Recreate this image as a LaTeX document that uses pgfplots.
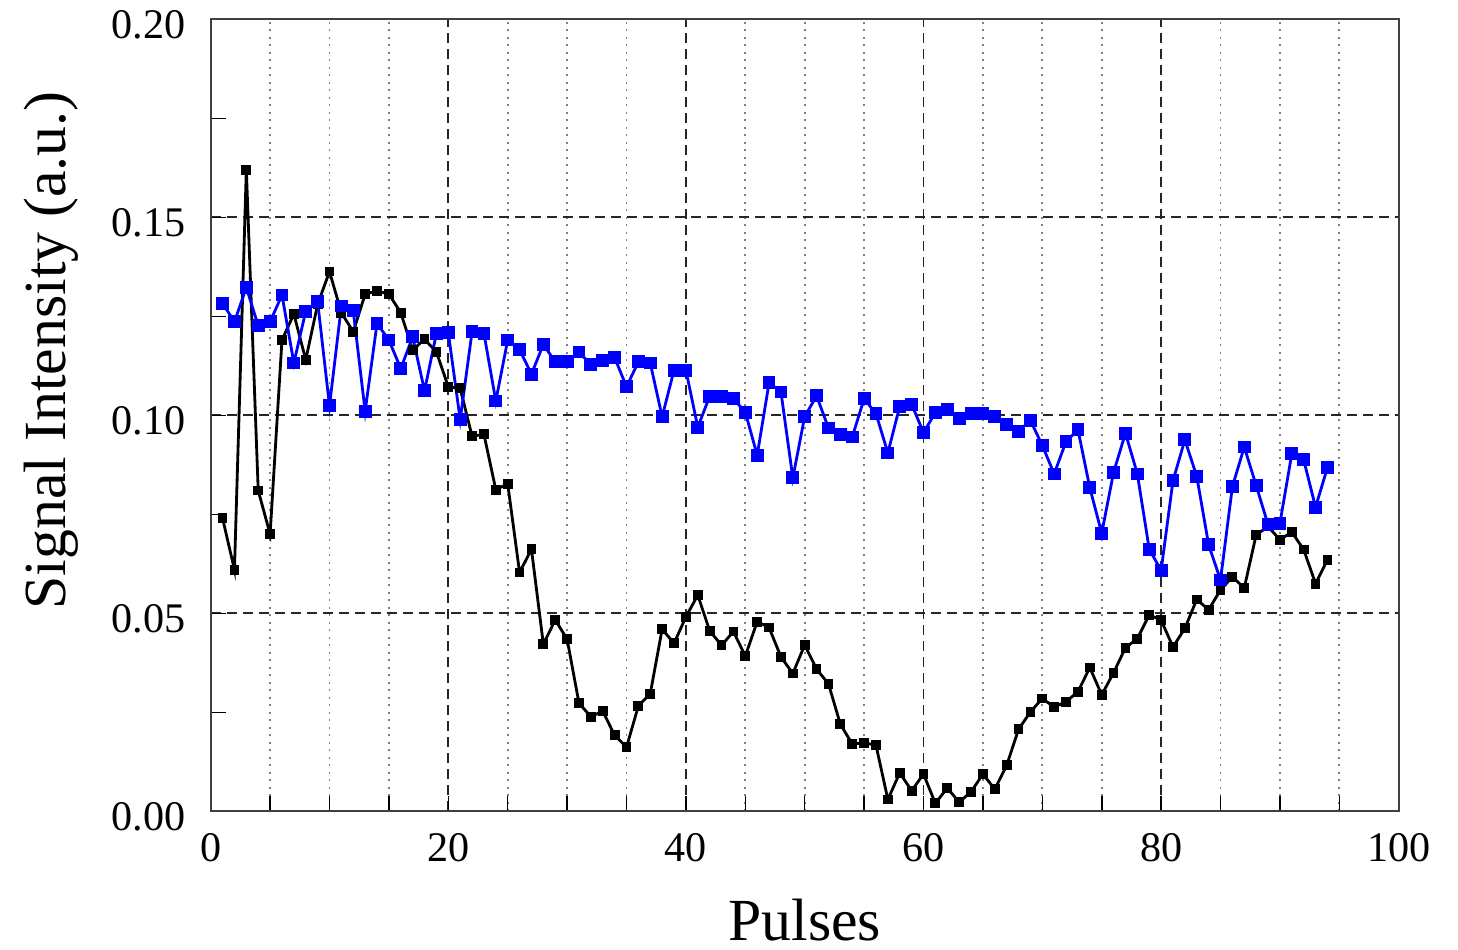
\documentclass[border=0pt]{standalone}
\usepackage{pgfplots}
\pgfplotsset{compat=1.18}
\usepackage{pgfplotstable}
\usepackage{fontspec}
\setmainfont{Liberation Serif}

\pgfplotstableread{
x y
1 0.074
2 0.061
3 0.162
4 0.081
5 0.070
6 0.119
7 0.1256
8 0.114
9 0.128
10 0.1363
11 0.1259
12 0.1211
13 0.1306
14 0.1314
15 0.1306
16 0.1259
17 0.1165
18 0.1192
19 0.116
20 0.1072
21 0.1068
22 0.0947
23 0.0952
24 0.0812
25 0.0827
26 0.0603
27 0.0662
28 0.0422
29 0.0483
30 0.0435
31 0.0273
32 0.0239
33 0.0253
34 0.0192
35 0.0162
36 0.0266
37 0.0297
38 0.046
39 0.0424
40 0.0491
41 0.0546
42 0.0456
43 0.0419
44 0.0454
45 0.0392
46 0.0479
47 0.0464
48 0.039
49 0.0348
50 0.042
51 0.0359
52 0.0322
53 0.022
54 0.017
55 0.0173
56 0.0167
57 0.003
58 0.0097
59 0.0052
60 0.0094
61 0.002
62 0.0059
63 0.0023
64 0.0049
65 0.0094
66 0.0056
67 0.0116
68 0.0207
69 0.0251
70 0.0285
71 0.0263
72 0.0277
73 0.0302
74 0.0363
75 0.0294
76 0.035
77 0.0413
78 0.0436
79 0.0496
80 0.0483
81 0.0415
82 0.0462
83 0.0535
84 0.0509
85 0.0559
86 0.0592
87 0.0564
88 0.0698
89 0.0719
90 0.0686
91 0.0705
92 0.0661
93 0.0575
94 0.0635
}\blackdata

\pgfplotstableread{
x y
1 0.1283
2 0.1236
3 0.1323
4 0.1226
5 0.1236
6 0.1304
7 0.1132
8 0.1263
9 0.1287
10 0.1024
11 0.1276
12 0.1264
13 0.101
14 0.1232
15 0.119
16 0.1118
17 0.1198
18 0.1062
19 0.1207
20 0.1209
21 0.0989
22 0.1211
23 0.1207
24 0.1036
25 0.119
26 0.1166
27 0.1104
28 0.1179
29 0.1135
30 0.1135
31 0.116
32 0.1128
33 0.1139
34 0.1146
35 0.1072
36 0.1135
37 0.1132
38 0.0996
39 0.1114
40 0.1114
41 0.097
42 0.1048
43 0.1048
44 0.1042
45 0.1008
46 0.0899
47 0.1082
48 0.1059
49 0.0842
50 0.0997
51 0.1049
52 0.0968
53 0.0952
54 0.0945
55 0.1042
56 0.1004
57 0.0905
58 0.1023
59 0.1028
60 0.0956
61 0.1007
62 0.1014
63 0.0992
64 0.1004
65 0.1004
66 0.0996
67 0.0976
68 0.096
69 0.0987
70 0.0924
71 0.0852
72 0.0934
73 0.0964
74 0.0817
75 0.0702
76 0.0856
77 0.0955
78 0.0852
79 0.0662
80 0.0608
81 0.0835
82 0.0938
83 0.0846
84 0.0673
85 0.0584
86 0.082
87 0.092
88 0.0823
89 0.0724
90 0.0727
91 0.0903
92 0.0888
93 0.0768
94 0.0868
}\bluedata

\begin{document}
\begin{tikzpicture}
\begin{axis}[
  scale only axis,
  width=11.88cm, height=7.92cm,
  xmin=0, xmax=100, ymin=0, ymax=0.2,
  xtick={0,20,40,60,80,100},
  ytick={0,0.05,0.1,0.15,0.2},
  minor x tick num=3,
  minor y tick num=1,
  xtick pos=left, ytick pos=left,
  tick align=inside,
  major tick length=0.15cm, minor tick length=0.15cm,
  tick style={black, line width=0.45pt},
  axis line style={black!75, line width=0.6pt},
  xmajorgrids=true, xminorgrids=true, ymajorgrids=true,
  major grid style={black!85, line width=0.55pt, dash pattern=on 0.1cm off 0.06cm},
  minor x grid style={gray, line width=0.5pt, dash pattern=on 0.02cm off 0.055cm},
  /pgf/number format/assume math mode=true,
  ticklabel style={font=\fontsize{12}{14}\selectfont},
  yticklabel style={/pgf/number format/.cd, fixed, fixed zerofill, precision=2, /tikz/.cd, xshift=-0.13cm, yshift=-0.05cm},
  xticklabel style={yshift=-0.10cm},
  scaled y ticks=false,
  xlabel={Pulses},
  ylabel={Signal Intensity (a.u.)},
  label style={font=\fontsize{17}{20}\selectfont},
  xlabel style={at={(axis description cs:0.5,-0.163)}, anchor=base},
  ylabel style={at={(axis description cs:-0.122,0.582)}, anchor=base},
]
\addplot[black, line width=0.8pt, mark=square*, mark size=0.035cm, mark options={solid}] table[x=x,y=y] {\blackdata};
\addplot[color={rgb,255:red,0;green,0;blue,255}, line width=0.8pt, mark=square*, mark size=0.05cm, mark options={solid}] table[x=x,y=y] {\bluedata};
\end{axis}
\pgfresetboundingbox
\path ([shift={(-2.107cm,-1.377cm)}]current axis.south west) rectangle ([shift={(0.593cm,0.193cm)}]current axis.north east);
\end{tikzpicture}
\end{document}
